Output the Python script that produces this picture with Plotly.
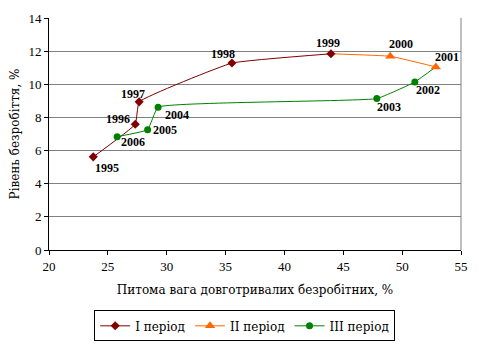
import plotly.graph_objects as go

years_1 = ["1995", "1996", "1997", "1998", "1999"]
x_1 = [23.76, 27.33, 27.66, 35.54, 43.95]
y_1 = [5.62, 7.59, 8.94, 11.28, 11.84]

years_2 = ["2000", "2001"]
x_2 = [48.99, 52.86]
y_2 = [11.69, 11.05]

years_3 = ["2002", "2003", "2004", "2005", "2006"]
x_3 = [51.08, 47.85, 29.27, 28.38, 25.79]
y_3 = [10.14, 9.14, 8.62, 7.26, 6.84]

series_names = ["I період", "II період", "III період"]
x_ticks = [20, 25, 30, 35, 40, 45, 50, 55]
y_ticks = [0, 2, 4, 6, 8, 10, 12, 14]

C1, C2, C3 = "#800000", "#FF6600", "#008000"
FONT = "Liberation Serif"
FONT_CYR = "DejaVu Serif"
SMOOTH = 0.3

fig = go.Figure()

fig.add_trace(go.Scatter(x=x_1, y=y_1, mode="lines", line=dict(color=C1, width=1, shape="spline", smoothing=SMOOTH),
                         showlegend=False, hoverinfo="skip"))
fig.add_trace(go.Scatter(x=[x_1[-1]] + x_2, y=[y_1[-1]] + y_2, mode="lines",
                         line=dict(color=C2, width=1, shape="spline", smoothing=SMOOTH), showlegend=False, hoverinfo="skip"))
fig.add_trace(go.Scatter(x=[x_2[-1]] + x_3, y=[y_2[-1]] + y_3, mode="lines",
                         line=dict(color=C3, width=1, shape="spline", smoothing=SMOOTH), showlegend=False, hoverinfo="skip"))
fig.add_trace(go.Scatter(x=x_3, y=y_3, mode="markers", marker=dict(color=C3, symbol="circle", size=7), showlegend=False))
fig.add_trace(go.Scatter(x=x_2, y=y_2, mode="markers", marker=dict(color=C2, symbol="triangle-up", size=9), showlegend=False))
fig.add_trace(go.Scatter(x=x_1, y=y_1, mode="markers", marker=dict(color=C1, symbol="diamond", size=7), showlegend=False))

for name, col, sym, sz in zip(series_names, [C1, C2, C3], ["diamond", "triangle-up", "circle"], [7, 9, 7]):
    fig.add_trace(go.Scatter(x=[None], y=[None], mode="lines+markers", name=name,
                             line=dict(color=col, width=1), marker=dict(color=col, symbol=sym, size=sz)))

offsets_1 = [(14, -11), (-17, 5), (-6, 8), (-9, 9), (-3, 11)]
offsets_2 = [(11, 12), (11, 10)]
offsets_3 = [(13, -8), (12, -8), (19, -8), (17, 0), (16, -5)]
for xs, ys, yrs, offs in [(x_1, y_1, years_1, offsets_1), (x_2, y_2, years_2, offsets_2), (x_3, y_3, years_3, offsets_3)]:
    for xv, yv, t, (dx, dy) in zip(xs, ys, yrs, offs):
        fig.add_annotation(x=xv, y=yv, text="<b>" + t + "</b>", showarrow=False, xshift=dx, yshift=dy,
                           font=dict(family=FONT, size=12, color="black"))

fig.add_shape(type="line", xref="paper", yref="paper", x0=1, x1=1, y0=0, y1=1,
              line=dict(color="#808080", width=1))

fig.update_layout(
    width=479, height=352,
    margin=dict(l=49, r=11, t=14, b=96),
    paper_bgcolor="white", plot_bgcolor="white",
    font=dict(family=FONT, size=12, color="black"),
    showlegend=True,
    legend=dict(orientation="h", x=0.475, xanchor="center", y=-0.26, yanchor="top",
                bordercolor="black", borderwidth=1, font=dict(family=FONT_CYR, size=12),
                itemwidth=30, tracegroupgap=0),
    xaxis=dict(range=[20, 55], tickvals=x_ticks, ticks="outside", ticklen=4, tickcolor="black",
               showline=True, linecolor="black", linewidth=1, showgrid=False, zeroline=False,
               tickfont=dict(family=FONT, size=13),
               title=dict(text="Питома вага довготривалих безробітних, %", font=dict(family=FONT_CYR, size=12), standoff=13)),
    yaxis=dict(range=[0, 14], tickvals=y_ticks, ticks="outside", ticklen=4, tickcolor="black",
               showline=True, linecolor="black", linewidth=1, showgrid=True, gridcolor="#808080", gridwidth=1,
               zeroline=False, tickfont=dict(family=FONT, size=13),
               title=dict(text="Рівень безробіття, %", font=dict(family=FONT_CYR, size=12), standoff=6)),
)

fig.write_html("out.html")
